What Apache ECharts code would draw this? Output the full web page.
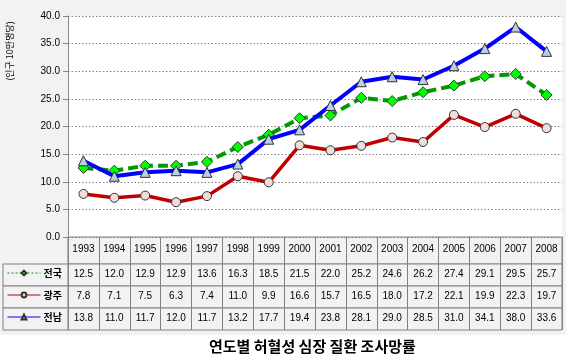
<!DOCTYPE html>
<html><head><meta charset="utf-8">
<script src="https://cdn.jsdelivr.net/npm/echarts@6/dist/echarts.min.js"></script>
<style>html,body{margin:0;padding:0;background:#fff}#c{width:566px;height:358px}</style>
</head><body><div id="c"></div>
<script>
var years = ['1993','1994','1995','1996','1997','1998','1999','2000','2001','2002','2003','2004','2005','2006','2007','2008'];
var nationalName = '전국';
var national = [12.5,12.0,12.9,12.9,13.6,16.3,18.5,21.5,22.0,25.2,24.6,26.2,27.4,29.1,29.5,25.7];
var gwangjuName = '광주';
var gwangju = [7.8,7.1,7.5,6.3,7.4,11.0,9.9,16.6,15.7,16.5,18.0,17.2,22.1,19.9,22.3,19.7];
var jeonnamName = '전남';
var jeonnam = [13.8,11.0,11.7,12.0,11.7,13.2,17.7,19.4,23.8,28.1,29.0,28.5,31.0,34.1,38.0,33.6];
var yTicks = {min: 0, max: 40, interval: 5};
var yName = '(인구 10만명당)';
var titleText = '연도별 허혈성 심장 질환 조사망률';

var FONT = '"Noto Sans CJK KR","Noto Sans",sans-serif';
var NUMFONT = '"Liberation Sans","DejaVu Sans",sans-serif';
var BORDER = '#808080';
var PL = 68, PW = 494;
var rowTops = [237, 264, 286, 308];
var rowH = [27, 22, 22, 22];

var grids = [{left: PL, top: 16, width: PW, height: 221, show: true, backgroundColor: '#ffffff', borderWidth: 0}];
var xAxes = [{type: 'category', data: years, gridIndex: 0, boundaryGap: true,
  axisLine: {show: false}, axisTick: {show: false}, axisLabel: {show: false}, splitLine: {show: false}}];
var yAxes = [{type: 'value', gridIndex: 0, min: yTicks.min, max: yTicks.max, interval: yTicks.interval,
  axisLine: {show: true, lineStyle: {color: '#868686', width: 1}},
  axisTick: {show: true, inside: false, length: 5, lineStyle: {color: '#868686'}},
  axisLabel: {formatter: function (v) { return v.toFixed(1); }, fontSize: 10, color: '#000', fontFamily: NUMFONT, margin: 8},
  splitLine: {show: true, lineStyle: {color: '#808080', type: [1.5, 2], width: 1}}}];

var rowData = [years, national, gwangju, jeonnam];
for (var i = 0; i < 4; i++) {
  grids.push({left: PL, top: rowTops[i], width: PW, height: rowH[i], show: true,
    backgroundColor: '#f2f2f2', borderColor: BORDER, borderWidth: 1});
  xAxes.push({type: 'category', gridIndex: i + 1, boundaryGap: true,
    data: rowData[i].map(function (v) { return typeof v === 'number' ? v.toFixed(1) : v; }),
    axisLine: {show: false}, axisTick: {show: false},
    axisLabel: {interval: 0, fontSize: 10, color: '#000', fontFamily: NUMFONT, margin: -(rowH[i] / 2 + 6)},
    splitLine: {show: true, interval: 0, lineStyle: {color: BORDER, width: 1}}});
  yAxes.push({type: 'value', gridIndex: i + 1, show: false});
}
// legend column cells
for (var j = 1; j < 4; j++) {
  grids.push({left: 3, top: rowTops[j], width: PL - 3, height: rowH[j], show: true,
    backgroundColor: '#f2f2f2', borderColor: BORDER, borderWidth: 1});
}

var names = [nationalName, gwangjuName, jeonnamName];
var legendDash = [[2, 2], 'solid', 'solid'];
var legendColors = ['#009900', '#c00000', '#0000ff'];
var legends = names.map(function (n, k) {
  return {data: [{name: n, lineStyle: {type: legendDash[k], width: 1, color: legendColors[k]}}],
    left: 7, top: rowTops[k + 1] + 4, itemWidth: 33, itemHeight: 6, itemGap: 3, padding: 0,
    textStyle: {fontSize: 10, color: '#000', fontFamily: FONT, fontWeight: 'bold', padding: [0, 0, 0, -2]},
    selectedMode: false};
});

var chart = echarts.init(document.getElementById('c'), null, {renderer: 'canvas'});
chart.setOption({
  backgroundColor: '#f2f2f2',
  animation: false,
  grid: grids,
  xAxis: xAxes,
  yAxis: yAxes,
  legend: legends,
  title: {text: titleText, left: 209, top: 339, padding: 0,
    textStyle: {fontSize: 15, fontWeight: 'bold', color: '#000', fontFamily: FONT}},
  graphic: [
    {type: 'rect', shape: {x: 0, y: 335, width: 566, height: 23}, style: {fill: '#ffffff'}, silent: true},
    {type: 'text', x: 10, y: 51, rotation: Math.PI / 2,
      style: {text: yName, fontSize: 9, fill: '#000', fontFamily: FONT, align: 'center', verticalAlign: 'middle'}}
  ],
  series: [
    {name: nationalName, type: 'line', data: national, xAxisIndex: 0, yAxisIndex: 0,
      lineStyle: {color: '#009900', width: 4, type: [10, 5]},
      symbol: 'diamond', symbolSize: 11,
      itemStyle: {color: '#00ff00', borderColor: '#333333', borderWidth: 1}, z: 3},
    {name: gwangjuName, type: 'line', data: gwangju, xAxisIndex: 0, yAxisIndex: 0,
      lineStyle: {color: '#c00000', width: 3.5},
      symbol: 'circle', symbolSize: 9,
      itemStyle: {color: '#f2dcdb', borderColor: '#333333', borderWidth: 1}, z: 3},
    {name: jeonnamName, type: 'line', data: jeonnam, xAxisIndex: 0, yAxisIndex: 0,
      lineStyle: {color: '#0000ff', width: 4},
      symbol: 'triangle', symbolSize: 10,
      itemStyle: {color: '#b9cde5', borderColor: '#333333', borderWidth: 1}, z: 4}
  ]
});
</script></body></html>
